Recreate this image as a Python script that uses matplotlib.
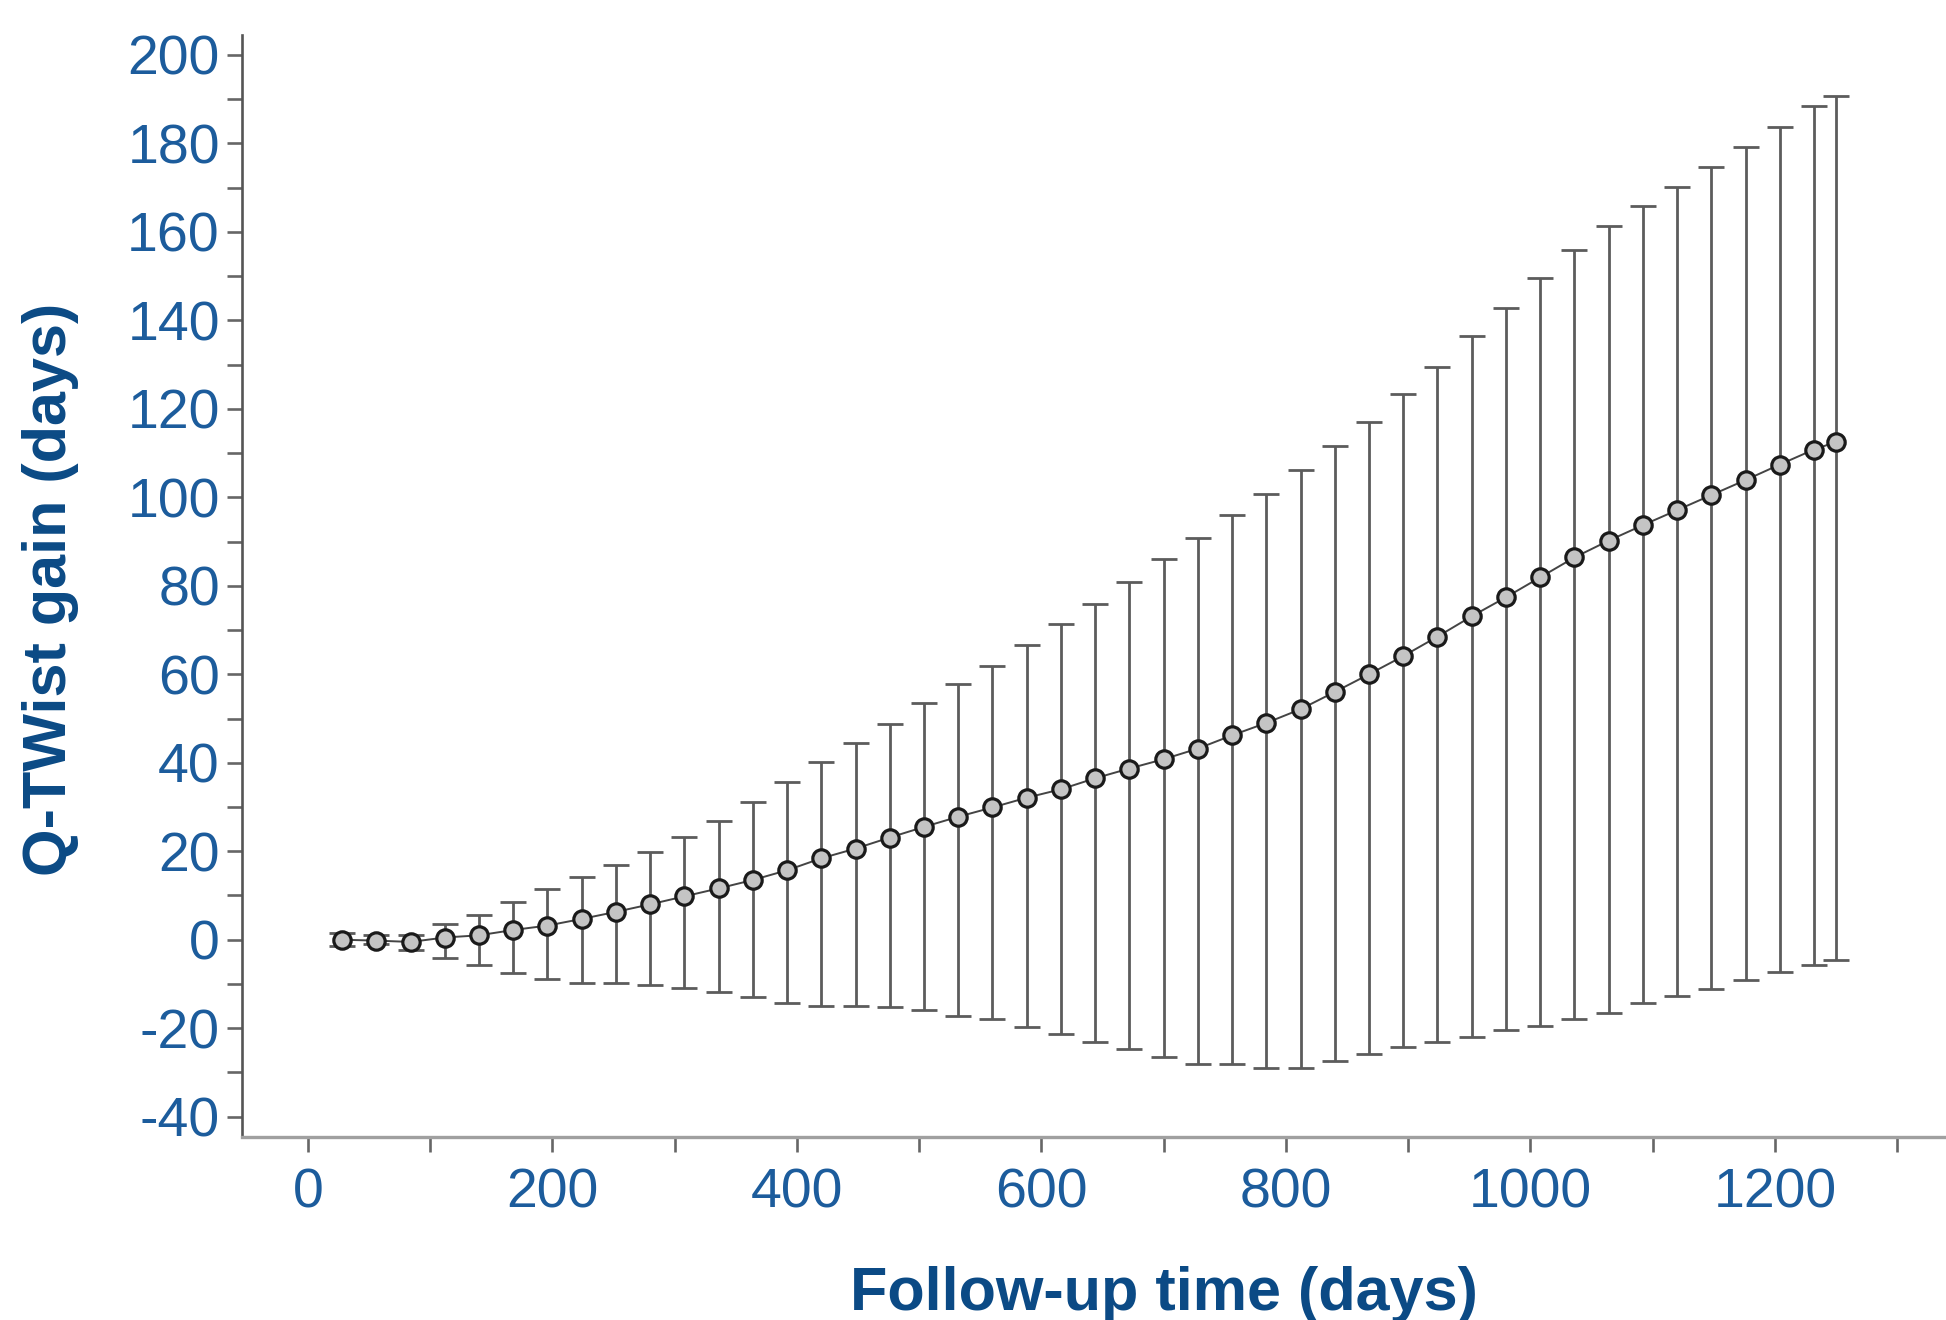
"""Q-TWist gain over follow-up time with error bars."""
import matplotlib
matplotlib.use("Agg")
import matplotlib.pyplot as plt
from matplotlib.ticker import MultipleLocator

plt.rcParams['font.family'] = ['Liberation Sans', 'DejaVu Sans']
plt.rcParams['axes.unicode_minus'] = False

# follow-up time (days)
days = [28, 56, 84, 112, 140, 168, 196, 224, 252, 280,
        308, 336, 364, 392, 420, 448, 476, 504, 532, 560,
        588, 616, 644, 672, 700, 728, 756, 784, 812, 840,
        868, 896, 924, 952, 980, 1008, 1036, 1064, 1092, 1120,
        1148, 1176, 1204, 1232, 1250]

# Q-TWist gain estimate (days)
gain = [0.0, -0.2, -0.5, 0.5, 1.0, 2.2, 3.2, 4.7, 6.3, 8.0,
        9.8, 11.6, 13.5, 15.7, 18.4, 20.6, 23.1, 25.5, 27.8, 29.9,
        32.1, 34.0, 36.5, 38.7, 40.8, 43.2, 46.2, 49.0, 52.1, 56.0,
        60.0, 64.1, 68.5, 73.1, 77.4, 81.9, 86.4, 90.2, 93.7, 97.1,
        100.5, 103.9, 107.4, 110.8, 112.5]

# upper / lower confidence limits
upper = [1.5, 1.0, 1.0, 3.5, 5.7, 8.6, 11.4, 14.2, 16.9, 19.9,
         23.3, 26.8, 31.2, 35.6, 40.1, 44.4, 48.7, 53.4, 57.7, 61.8,
         66.6, 71.3, 75.9, 80.8, 86.0, 90.7, 96.0, 100.7, 106.2, 111.6,
         117.1, 123.3, 129.5, 136.4, 142.7, 149.5, 156.0, 161.3, 165.9, 170.2,
         174.7, 179.2, 183.8, 188.5, 190.8]
lower = [-1.5, -1.0, -2.4, -4.2, -5.8, -7.6, -8.8, -9.7, -9.7, -10.3,
         -11.0, -11.8, -12.9, -14.2, -15.0, -15.0, -15.3, -15.8, -17.2, -18.0,
         -19.7, -21.3, -23.1, -24.8, -26.6, -28.0, -28.2, -29.1, -29.1, -27.5,
         -25.9, -24.3, -23.1, -22.0, -20.4, -19.4, -18.0, -16.6, -14.4, -12.7,
         -11.1, -9.1, -7.2, -5.6, -4.5]

tick_blue = '#1c5c9c'
label_blue = '#0b4a85'

fig = plt.figure(figsize=(19.46, 13.2), dpi=100)
ax = fig.add_axes([0.1244, 0.1386, 0.8756, 0.8349])

err_lo = [g - l for g, l in zip(gain, lower)]
err_hi = [u - g for g, u in zip(gain, upper)]
ax.errorbar(days, gain, yerr=[err_lo, err_hi], fmt='none',
            ecolor='#5c5c5c', elinewidth=2.0, capsize=9.5, capthick=2.0,
            zorder=2)
ax.plot(days, gain, color='#444444', lw=1.4, marker='o', markersize=12.5,
        markerfacecolor='#c4c4c4', markeredgecolor='#1a1a1a',
        markeredgewidth=2.3, zorder=3)

ax.set_xlim(-53.8, 1340)
ax.set_ylim(-44.6, 204.5)

ax.xaxis.set_major_locator(MultipleLocator(200))
ax.xaxis.set_minor_locator(MultipleLocator(100))
ax.yaxis.set_major_locator(MultipleLocator(20))
ax.yaxis.set_minor_locator(MultipleLocator(10))

for side in ['top', 'right']:
    ax.spines[side].set_visible(False)
ax.spines['left'].set_color('#555555')
ax.spines['left'].set_linewidth(1.9)
ax.spines['bottom'].set_color('#a0a0a0')
ax.spines['bottom'].set_linewidth(2.4)

ax.tick_params(axis='both', which='both', direction='out', length=11,
               width=1.9, color='#666666')
ax.tick_params(axis='y', which='major', labelsize=40, labelcolor=tick_blue, pad=5)
ax.tick_params(axis='x', which='major', labelsize=40, labelcolor=tick_blue, pad=11)

ax.set_xlabel('Follow-up time (days)', fontsize=44, fontweight='bold',
              color=label_blue)
ax.xaxis.set_label_coords(0.541, -0.117)
ax.set_ylabel('Q-TWist gain (days)', fontsize=44, fontweight='bold',
              color=label_blue)
ax.yaxis.set_label_coords(-0.096, 0.497)

fig.savefig('out.png', dpi=100)
